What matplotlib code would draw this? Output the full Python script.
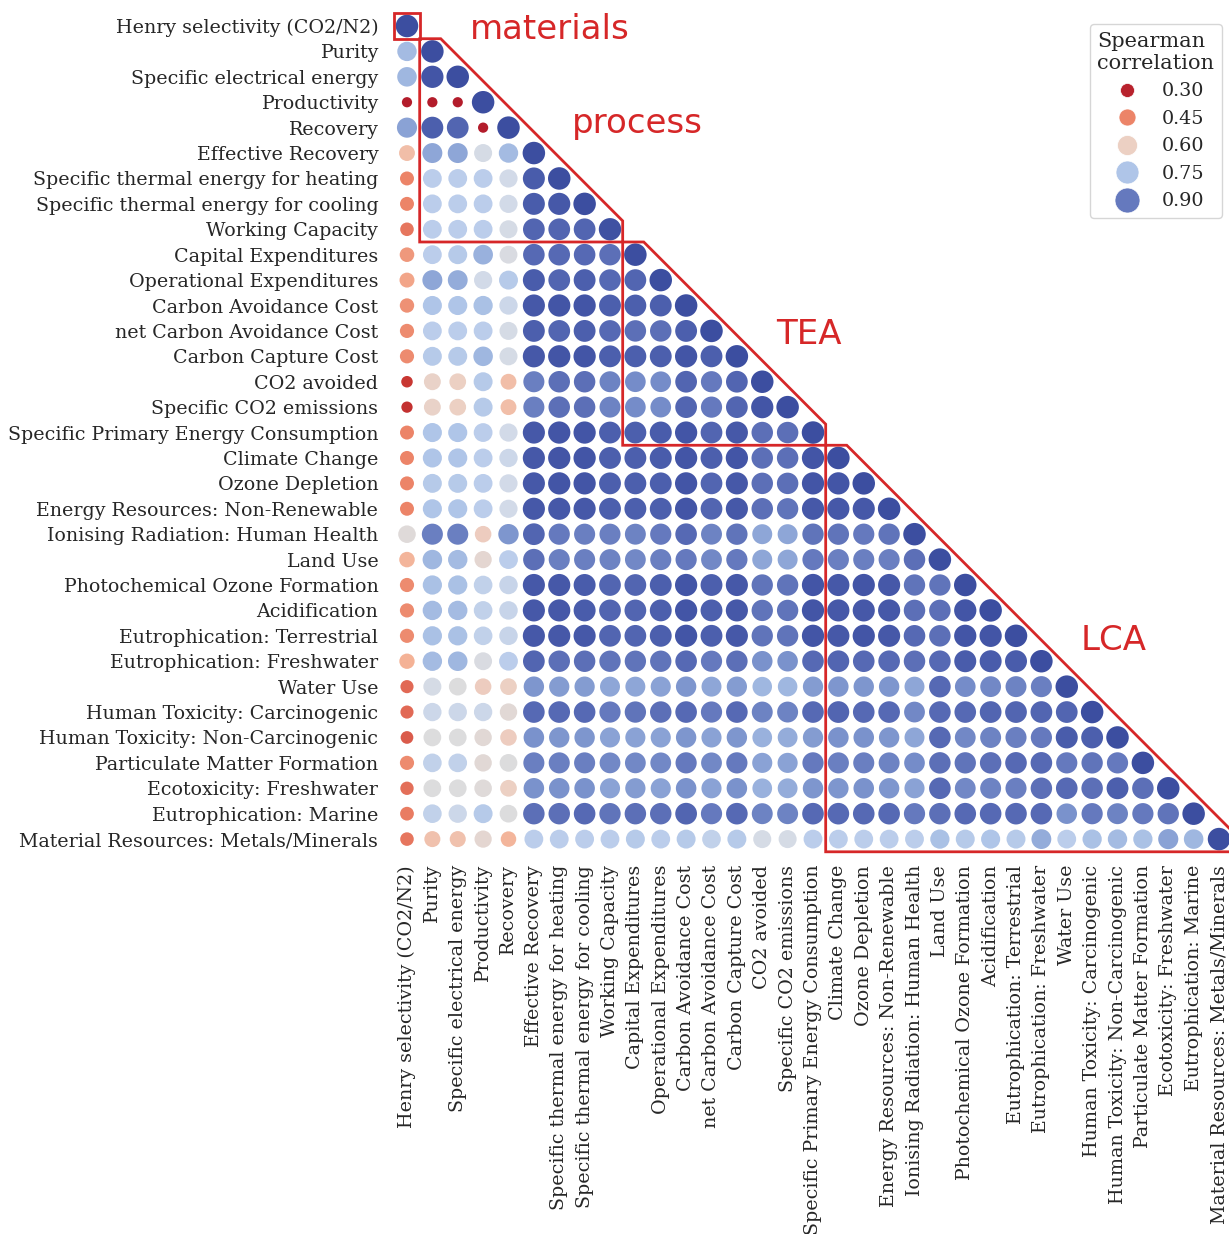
import numpy as np
import matplotlib
matplotlib.use("Agg")
import matplotlib.pyplot as plt
from matplotlib.colors import LinearSegmentedColormap, Normalize
from matplotlib.lines import Line2D
from matplotlib.patches import Polygon

# Indicator names, in matrix order
labels = [
    "Henry selectivity (CO2/N2)",
    "Purity",
    "Specific electrical energy",
    "Productivity",
    "Recovery",
    "Effective Recovery",
    "Specific thermal energy for heating",
    "Specific thermal energy for cooling",
    "Working Capacity",
    "Capital Expenditures",
    "Operational Expenditures",
    "Carbon Avoidance Cost",
    "net Carbon Avoidance Cost",
    "Carbon Capture Cost",
    "CO2 avoided",
    "Specific CO2 emissions",
    "Specific Primary Energy Consumption",
    "Climate Change",
    "Ozone Depletion",
    "Energy Resources: Non-Renewable",
    "Ionising Radiation: Human Health",
    "Land Use",
    "Photochemical Ozone Formation",
    "Acidification",
    "Eutrophication: Terrestrial",
    "Eutrophication: Freshwater",
    "Water Use",
    "Human Toxicity: Carcinogenic",
    "Human Toxicity: Non-Carcinogenic",
    "Particulate Matter Formation",
    "Ecotoxicity: Freshwater",
    "Eutrophication: Marine",
    "Material Resources: Metals/Minerals",
]

# Lower triangle of the Spearman correlation matrix (row i holds columns 0..i)
rho_rows = [
    [1.00],
    [0.77, 1.00],
    [0.78, 0.98, 1.00],
    [0.29, 0.29, 0.29, 1.00],
    [0.82, 0.95, 0.94, 0.29, 1.00],
    [0.55, 0.81, 0.81, 0.68, 0.77, 1.00],
    [0.45, 0.73, 0.73, 0.73, 0.69, 0.96, 1.00],
    [0.45, 0.73, 0.73, 0.73, 0.69, 0.96, 0.97, 1.00],
    [0.43, 0.73, 0.73, 0.73, 0.68, 0.94, 0.94, 0.94, 0.99],
    [0.48, 0.73, 0.74, 0.79, 0.67, 0.93, 0.93, 0.93, 0.92, 1.00],
    [0.50, 0.81, 0.80, 0.69, 0.74, 0.96, 0.94, 0.95, 0.93, 0.94, 1.00],
    [0.47, 0.75, 0.75, 0.76, 0.70, 0.97, 0.98, 0.98, 0.95, 0.95, 0.95, 1.00],
    [0.46, 0.73, 0.73, 0.73, 0.68, 0.95, 0.94, 0.95, 0.93, 0.92, 0.92, 0.95, 1.00],
    [0.46, 0.74, 0.74, 0.78, 0.68, 0.97, 0.98, 0.98, 0.95, 0.95, 0.95, 0.98, 0.95, 1.00],
    [0.34, 0.61, 0.60, 0.74, 0.55, 0.89, 0.92, 0.92, 0.88, 0.86, 0.86, 0.94, 0.90, 0.94, 1.00],
    [0.33, 0.61, 0.60, 0.74, 0.55, 0.89, 0.92, 0.92, 0.88, 0.86, 0.86, 0.94, 0.90, 0.94, 0.98, 1.00],
    [0.45, 0.75, 0.75, 0.73, 0.69, 0.97, 0.98, 0.98, 0.95, 0.95, 0.96, 0.98, 0.94, 0.97, 0.92, 0.92, 1.00],
    [0.45, 0.75, 0.75, 0.73, 0.70, 0.97, 0.98, 0.98, 0.95, 0.95, 0.96, 0.98, 0.95, 0.98, 0.92, 0.92, 0.98, 1.00],
    [0.45, 0.74, 0.74, 0.73, 0.69, 0.97, 0.98, 0.98, 0.95, 0.95, 0.95, 0.98, 0.94, 0.97, 0.92, 0.92, 0.98, 0.98, 1.00],
    [0.45, 0.75, 0.75, 0.73, 0.69, 0.97, 0.97, 0.97, 0.95, 0.95, 0.95, 0.98, 0.94, 0.97, 0.92, 0.91, 0.97, 0.97, 0.97, 1.00],
    [0.65, 0.89, 0.89, 0.59, 0.84, 0.94, 0.90, 0.89, 0.89, 0.88, 0.90, 0.93, 0.88, 0.91, 0.81, 0.81, 0.91, 0.91, 0.90, 0.91, 1.00],
    [0.53, 0.78, 0.77, 0.63, 0.73, 0.92, 0.89, 0.89, 0.88, 0.87, 0.89, 0.90, 0.87, 0.90, 0.81, 0.81, 0.90, 0.89, 0.89, 0.89, 0.92, 1.00],
    [0.46, 0.76, 0.76, 0.72, 0.71, 0.97, 0.97, 0.96, 0.94, 0.94, 0.95, 0.98, 0.95, 0.97, 0.91, 0.91, 0.98, 0.97, 0.98, 0.97, 0.91, 0.91, 1.00],
    [0.46, 0.77, 0.77, 0.72, 0.71, 0.97, 0.97, 0.96, 0.94, 0.94, 0.95, 0.98, 0.95, 0.97, 0.91, 0.91, 0.98, 0.97, 0.97, 0.97, 0.92, 0.92, 0.98, 1.00],
    [0.46, 0.76, 0.76, 0.72, 0.71, 0.97, 0.97, 0.97, 0.94, 0.94, 0.95, 0.98, 0.95, 0.97, 0.91, 0.91, 0.98, 0.97, 0.98, 0.97, 0.93, 0.92, 0.98, 0.98, 1.00],
    [0.52, 0.77, 0.78, 0.67, 0.73, 0.94, 0.92, 0.92, 0.91, 0.91, 0.91, 0.93, 0.90, 0.92, 0.85, 0.85, 0.93, 0.94, 0.93, 0.93, 0.92, 0.93, 0.96, 0.96, 0.96, 1.00],
    [0.41, 0.68, 0.66, 0.59, 0.60, 0.84, 0.83, 0.83, 0.81, 0.81, 0.82, 0.84, 0.81, 0.83, 0.78, 0.78, 0.83, 0.84, 0.84, 0.84, 0.81, 0.93, 0.86, 0.87, 0.88, 0.89, 1.00],
    [0.41, 0.70, 0.70, 0.70, 0.64, 0.93, 0.93, 0.93, 0.90, 0.91, 0.92, 0.93, 0.90, 0.93, 0.88, 0.88, 0.93, 0.94, 0.93, 0.93, 0.87, 0.93, 0.93, 0.94, 0.94, 0.94, 0.94, 1.00],
    [0.39, 0.66, 0.66, 0.64, 0.59, 0.85, 0.84, 0.84, 0.82, 0.82, 0.82, 0.84, 0.82, 0.84, 0.79, 0.80, 0.83, 0.85, 0.85, 0.84, 0.81, 0.93, 0.87, 0.88, 0.89, 0.90, 0.96, 0.95, 1.00],
    [0.46, 0.72, 0.72, 0.64, 0.66, 0.89, 0.89, 0.89, 0.87, 0.87, 0.87, 0.90, 0.87, 0.90, 0.82, 0.82, 0.90, 0.89, 0.89, 0.88, 0.86, 0.92, 0.91, 0.92, 0.93, 0.93, 0.90, 0.91, 0.90, 1.00],
    [0.42, 0.66, 0.66, 0.65, 0.60, 0.85, 0.85, 0.85, 0.82, 0.83, 0.82, 0.85, 0.82, 0.85, 0.79, 0.80, 0.84, 0.84, 0.85, 0.84, 0.82, 0.93, 0.87, 0.88, 0.89, 0.92, 0.93, 0.92, 0.95, 0.92, 1.00],
    [0.44, 0.72, 0.70, 0.74, 0.66, 0.92, 0.92, 0.93, 0.91, 0.92, 0.92, 0.94, 0.90, 0.93, 0.88, 0.88, 0.93, 0.93, 0.93, 0.93, 0.90, 0.92, 0.93, 0.93, 0.93, 0.93, 0.85, 0.90, 0.88, 0.90, 0.91, 1.00],
    [0.43, 0.56, 0.56, 0.63, 0.53, 0.73, 0.73, 0.73, 0.73, 0.74, 0.73, 0.74, 0.72, 0.74, 0.68, 0.68, 0.73, 0.73, 0.73, 0.73, 0.73, 0.76, 0.74, 0.75, 0.74, 0.80, 0.73, 0.76, 0.77, 0.76, 0.82, 0.78, 1.00],
]

legend_levels = [0.30, 0.45, 0.60, 0.75, 0.90]

# Indicator groups: (label, first index, last index)
groups = [("materials", 0, 0), ("process", 1, 8), ("TEA", 9, 16), ("LCA", 17, 32)]

# ---- colour and size scales -------------------------------------------------
VMIN, VMAX = 0.28, 1.00
anchors = [
    (0.28, (176, 24, 42)),
    (0.34, (200, 55, 50)),
    (0.41, (225, 105, 85)),
    (0.45, (236, 132, 104)),
    (0.52, (244, 178, 150)),
    (0.60, (236, 208, 196)),
    (0.66, (220, 220, 221)),
    (0.69, (210, 218, 232)),
    (0.73, (188, 206, 235)),
    (0.75, (176, 198, 232)),
    (0.80, (148, 172, 218)),
    (0.85, (122, 146, 204)),
    (0.90, (102, 122, 190)),
    (0.95, (77, 96, 174)),
    (1.00, (60, 78, 160)),
]
cmap = LinearSegmentedColormap.from_list(
    "corr",
    [((v - VMIN) / (VMAX - VMIN), tuple(c / 255 for c in rgb)) for v, rgb in anchors],
)
norm = Normalize(VMIN, VMAX)


def marker_area(v, d_lo=10.5, d_hi=22.5):
    """Marker area in pt^2, linear in the correlation value."""
    a_lo = (d_lo * 0.72) ** 2
    a_hi = (d_hi * 0.72) ** 2
    return a_lo + (np.asarray(v) - 0.30) / 0.70 * (a_hi - a_lo)


xs, ys, vals = [], [], []
for i, row in enumerate(rho_rows):
    for j, v in enumerate(row):
        xs.append(j)
        ys.append(i)
        vals.append(v)
vals = np.array(vals)

n = len(labels)
W, H = 1229, 1234
fig = plt.figure(figsize=(W / 100, H / 100), dpi=100)
ax_l, ax_r, ax_t, ax_b = 394.3, 1231.7, 13.3, 851.8
ax = fig.add_axes([ax_l / W, 1 - ax_b / H, (ax_r - ax_l) / W, (ax_b - ax_t) / H])

ax.scatter(xs, ys, s=marker_area(vals), c=vals, cmap=cmap, norm=norm,
           linewidths=0, zorder=3)

ax.set_xlim(-0.5, n - 0.5)
ax.set_ylim(n - 0.5, -0.5)
ax.set_xticks(range(n))
ax.set_yticks(range(n))
TXT = "#262626"
serif = {"family": "DejaVu Serif", "size": 13.65, "color": TXT}
ax.set_xticklabels(labels, rotation=90, fontdict=serif)
ax.set_yticklabels(labels, fontdict=serif)
ax.tick_params(axis="x", length=0, pad=9.5)
ax.tick_params(axis="y", length=0, pad=11.5)
for sp in ax.spines.values():
    sp.set_visible(False)

# ---- group outlines ---------------------------------------------------------
RED = "#d62728"
cut = 0.83
for name, a, b in groups:
    x0, x1 = a - 0.5, b + 0.5
    if a == b:
        pts = [(x0, x0), (x1, x0), (x1, x1), (x0, x1)]
    else:
        pts = [(x0, x0), (x0 + cut, x0), (x1, x1 - cut), (x1, x1), (x0, x1)]
    ax.add_patch(Polygon(pts, closed=True, fill=False, edgecolor=RED,
                         linewidth=2, zorder=4, clip_on=False))

label_pos = {"materials": (5.62, 0.50), "process": (9.08, 4.22),
             "TEA": (15.85, 12.51), "LCA": (27.83, 24.56)}
for name, (tx, ty) in label_pos.items():
    ax.text(tx, ty, name, ha="center", va="baseline", color=RED,
            fontsize=24.5, family="DejaVu Sans", zorder=5)

# ---- legend -----------------------------------------------------------------
legend_diam_px = [14, 17, 20, 23, 25]
handles = [
    Line2D([], [], linestyle="", marker="o", markersize=d * 0.72,
           markerfacecolor=cmap(norm(v)), markeredgecolor="white",
           markeredgewidth=0.5, label=f"{v:.2f}")
    for v, d in zip(legend_levels, legend_diam_px)
]
leg = fig.legend(handles=handles, title="Spearman\ncorrelation",
                 loc="upper right", bbox_to_anchor=(1222 / W, 1 - 24 / H),
                 borderaxespad=0, frameon=True, fancybox=True,
                 prop={"family": "DejaVu Serif", "size": 13.75},
                 title_fontproperties={"family": "DejaVu Serif", "size": 15})
leg.get_frame().set_edgecolor("#cccccc")
for t in leg.get_texts():
    t.set_color(TXT)
leg.get_title().set_color(TXT)

fig.savefig("out.png", dpi=100, facecolor="white")
